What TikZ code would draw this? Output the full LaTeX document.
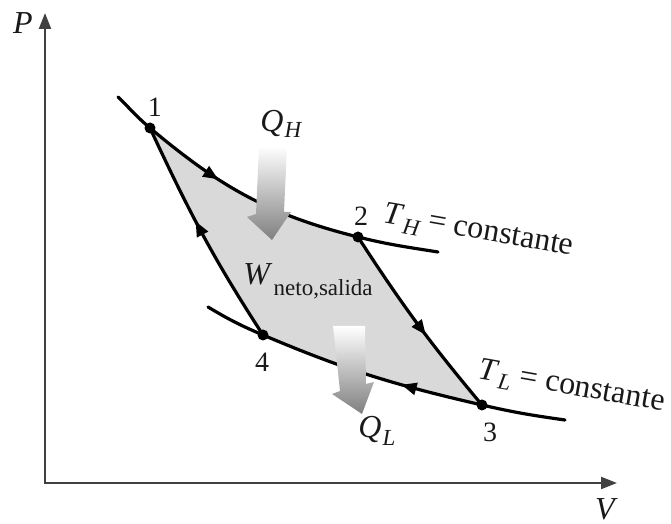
\documentclass[tikz,border=0pt]{standalone}
\usepackage{fontspec}
\setmainfont{Liberation Serif}
\usetikzlibrary{arrows.meta,decorations.markings}
\newcommand{\lsub}[2]{\kern0.6pt\raisebox{-#1}{\fontsize{11.5}{12}\selectfont #2}}
\begin{document}
\begin{tikzpicture}[x=0.5pt,y=0.5pt,
  cyc/.style={line width=1.6pt, black, line cap=round},
  axisline/.style={line width=1.1pt, black!75, {Triangle[length=8pt,width=6pt]}-{Triangle[length=8pt,width=6pt]}},
  statedot/.style={circle, fill=black, inner sep=0pt, minimum size=5.5pt},
  lbl/.style={font=\fontsize{16}{18}\selectfont, inner sep=0pt, text=black!90},
  numlbl/.style={font=\fontsize{14}{16}\selectfont, inner sep=0pt, text=black!90},
  midarrow/.style={postaction={decorate}, decoration={markings, mark=at position #1 with {\arrow{Triangle[length=7.5pt,width=6pt]}}}},
  heatarrow/.style={top color=white, bottom color=black!50, draw=none},
  cyclefill/.style={fill=black!15, draw=none}]

\useasboundingbox (0,0) rectangle (671,524);

% axes
\coordinate (O) at (45,41);
\coordinate (Ptop) at (45,511);
\coordinate (Vend) at (617,41);
\draw[axisline] (Ptop) -- (O) -- (Vend);
\node[lbl, font=\fontsize{16}{18}\selectfont\itshape] (Plab) at (23,501) {P};
\node[lbl, font=\fontsize{16}{18}\selectfont\itshape] (Vlab) at (605,15) {V};

% states and curve ends
\coordinate (p1) at (150,396);
\coordinate (p2) at (358,287);
\coordinate (p3) at (482,119);
\coordinate (p4) at (263,189);
\coordinate (thA) at (118,427);
\coordinate (thB) at (438,272);
\coordinate (tlA) at (208,217);
\coordinate (tlB) at (565,104);

% cycle area
\fill[cyclefill] (p1) to[out=-40,in=166] (p2) to[out=-57,in=130] (p3)
  to[out=167,in=-23] (p4) to[out=123,in=-65] (p1) -- cycle;

% isotherm T_H
\draw[cyc] (thA) to[out=-44,in=140] (p1);
\draw[cyc, midarrow=0.36] (p1) to[out=-40,in=166] (p2);
\draw[cyc] (p2) to[out=-14,in=171] (thB);
% isotherm T_L
\draw[cyc] (tlA) to[out=-31,in=157] (p4);
\draw[cyc, midarrow=0.36] (p3) to[out=167,in=-23] (p4);
\draw[cyc] (p3) to[out=-13,in=172] (tlB);
% adiabats
\draw[cyc, midarrow=0.57] (p2) to[out=-57,in=130] (p3);
\draw[cyc, midarrow=0.56] (p4) to[out=123,in=-65] (p1);

% heat arrows
\shade[heatarrow] (259,378) -- (287,378) -- (284,312) -- (291,312) -- (272,284)
  -- (247,307) -- (256,310) -- cycle;
\shade[heatarrow] (333,198) -- (365,198) -- (366,140) -- (374,142) -- (362,110)
  -- (332,130) -- (340,133) -- cycle;

% dots
\node[statedot] (d1) at (p1) {};
\node[statedot] (d2) at (p2) {};
\node[statedot] (d3) at (p3) {};
\node[statedot] (d4) at (p4) {};

% labels
\node[numlbl] (n1) at (155,417) {1};
\node[numlbl] (n2) at (361,308) {2};
\node[numlbl] (n3) at (490,92) {3};
\node[numlbl] (n4) at (262,162) {4};

\node[lbl, anchor=base west] (QH) at (260,392) {\textit{Q}\lsub{3pt}{\itshape H}};
\node[lbl, anchor=base west] (QL) at (358,86) {\textit{Q}\lsub{4pt}{\itshape L}};
\node[lbl, anchor=base west] (W) at (243,239) {\textit{W}\lsub{5.5pt}{neto,salida}};
\node[lbl, anchor=base west, rotate=-10] (TH) at (382,302) {\textit{T}\lsub{4pt}{\itshape H} = constante};
\node[lbl, anchor=base west, rotate=-10] (TL) at (477,146) {\textit{T}\lsub{3.5pt}{\itshape L} = constante};
\end{tikzpicture}
\end{document}
